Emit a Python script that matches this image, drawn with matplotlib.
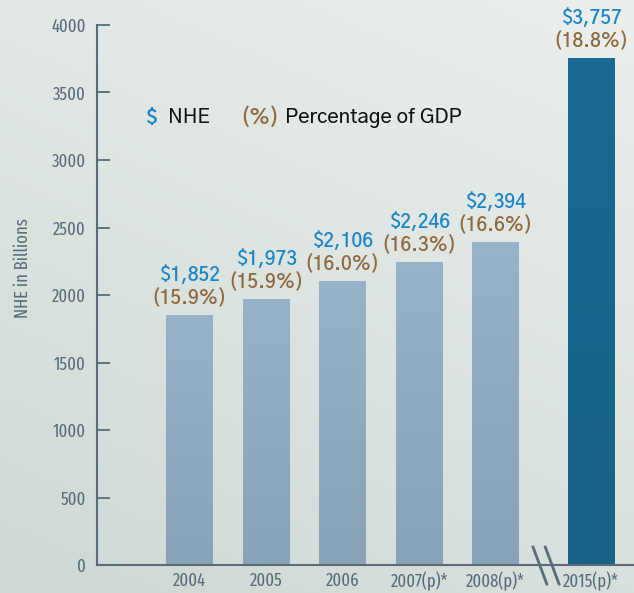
import numpy as np
import matplotlib
matplotlib.use("Agg")
import matplotlib.pyplot as plt
from matplotlib.lines import Line2D

years = ["2004", "2005", "2006", "2007(p)*", "2008(p)*", "2015(p)*"]
nhe = [1852, 1973, 2106, 2246, 2394, 3757]
pct = [15.9, 15.9, 16.0, 16.3, 16.6, 18.8]
yticks = [0, 500, 1000, 1500, 2000, 2500, 3000, 3500, 4000]

# bar slots, with a gap before the 2015 projection
xpos = np.array([0, 1, 2, 3, 4, 5.25])
bar_top = [(0.585, 0.700, 0.790)] * 5 + [(0.102, 0.416, 0.580)]
bar_bot = [(0.535, 0.640, 0.722)] * 5 + [(0.094, 0.388, 0.533)]

blue = "#1b87c9"
brown = "#8d6a40"
axis_col = "#5b6b7a"
narrow = ["Fira Sans Extra Condensed", "DejaVu Sans"]
label_font = ["Gothic A1", "DejaVu Sans"]

fig = plt.figure(figsize=(6.34, 5.93), dpi=100)

# soft background gradient
bg = fig.add_axes([0, 0, 1, 1], zorder=-1)
gy, gx = np.mgrid[0:1:200j, 0:1:200j]
shade = 0.55 * gy + 0.25 * gx
c0 = np.array([0.81, 0.85, 0.83])
c1 = np.array([0.92, 0.94, 0.93])
img = c0 + (c1 - c0) * np.clip(shade / 0.8, 0, 1)[..., None]
bg.imshow(img, origin="lower", aspect="auto", extent=[0, 1, 0, 1])
bg.axis("off")

ax = fig.add_axes([97 / 634, 28 / 593, 1 - 97 / 634, 540 / 593])
ax.patch.set_alpha(0)

bars = ax.bar(xpos, nhe, width=0.614, color=bar_top, zorder=2)
ramp = np.linspace(0, 1, 100)[:, None]
for b, ct, cb in zip(bars, bar_top, bar_bot):
    grad = np.array(cb) + (np.array(ct) - np.array(cb)) * ramp[..., None]
    im = ax.imshow(grad, origin="lower", aspect="auto", zorder=2.1,
                   extent=[b.get_x(), b.get_x() + b.get_width(), 0, b.get_height()])
    im.set_clip_path(b)

for x, v, p in zip(xpos, nhe, pct):
    ax.annotate(f"${v:,}", (x, v), xytext=(0, 40), textcoords="offset pixels",
                ha="center", va="center", color=blue, fontsize=13.5,
                fontweight=600, family=label_font)
    ax.annotate(f"({p:.1f}%)", (x, v), xytext=(0, 18), textcoords="offset pixels",
                ha="center", va="center", color=brown, fontsize=13.5,
                fontweight=600, family=label_font)

ax.set_ylim(0, 4000)
ax.set_xlim(-1.21, 5.81)
ax.set_yticks(yticks)
ax.set_yticklabels([str(t) for t in yticks], family=narrow, fontsize=13,
                   color=axis_col, fontweight=400)
ax.set_xticks(xpos)
ax.set_xticklabels(years, family=narrow, fontsize=13, color=axis_col, fontweight=400)
ax.tick_params(axis="y", direction="in", length=9, width=1.3, color=axis_col, pad=8)
ax.tick_params(axis="x", length=0, pad=5)
for s in ["top", "right"]:
    ax.spines[s].set_visible(False)
for s in ["left", "bottom"]:
    ax.spines[s].set_color(axis_col)
    ax.spines[s].set_linewidth(1.5)

ax.set_ylabel("NHE in Billions", family=narrow, fontsize=13, color=axis_col, fontweight=400)
ax.yaxis.set_label_coords(-0.121, 0.55)

# axis break marks
for dx in [0, 0.16]:
    ax.add_line(Line2D([4.49 + dx, 4.67 + dx], [133, -141], color=axis_col, lw=2,
                       clip_on=False, zorder=3))

# legend text
ly = 1 - 118 / 593
fig.text(145 / 634, ly, "$", color=blue, fontsize=14, fontweight=700,
         family=label_font, va="center")
fig.text(168 / 634, ly, "NHE", color="#111111", fontsize=14.5, fontweight=500,
         family=label_font, va="center")
fig.text(240 / 634, ly, "(%)", color=brown, fontsize=14.5, fontweight=600,
         family=label_font, va="center")
fig.text(285 / 634, ly, "Percentage of GDP", color="#111111", fontsize=14.5,
         fontweight=500, family=label_font, va="center")

fig.savefig("out.png", dpi=100)
